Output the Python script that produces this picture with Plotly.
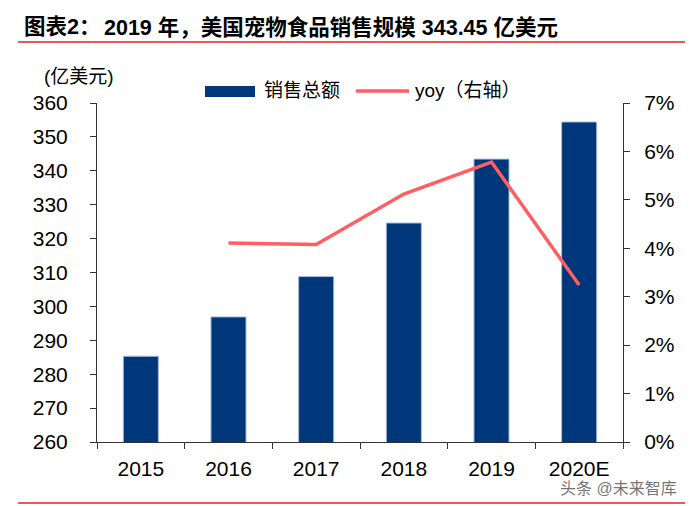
import plotly.graph_objects as go

years = ["2015", "2016", "2017", "2018", "2019", "2020E"]
sales = [285.3, 296.9, 308.8, 324.6, 343.45, 354.4]
yoy_years = ["2016", "2017", "2018", "2019", "2020E"]
yoy = [0.0411, 0.0408, 0.0512, 0.0578, 0.0324]

title_prefix = "图表2："
title_main = "2019 年，美国宠物食品销售规模 343.45 亿美元"
unit_label = "(亿美元)"
legend_bar = "销售总额"
legend_line = "yoy（右轴）"
watermark = "头条 @未来智库"

FONT = "Arial, 'Liberation Sans', 'Noto Sans CJK SC', sans-serif"
BLUE = "#00367A"
RED_LINE = "#FF5F62"
RULE = "#E2231A"

fig = go.Figure()

fig.add_trace(
    go.Bar(x=years, y=sales, name=legend_bar,
           width=0.4,
           marker=dict(color=BLUE, line=dict(color="#A9BBD6", width=1))))

fig.add_trace(
    go.Scatter(x=yoy_years, y=yoy, name=legend_line,
               mode="lines", yaxis="y2",
               line=dict(color=RED_LINE, width=3.5)))

# manual legend, title and rules (paper coords: plot is 526 x 339 px)
fig.add_shape(type="rect", xref="paper", yref="paper",
              x0=0.2053, x1=0.3004, y0=1.0177, y1=1.050,
              fillcolor=BLUE, line=dict(width=0))
fig.add_shape(type="line", xref="paper", yref="paper",
              x0=0.4924, x1=0.5932, y0=1.0354, y1=1.0354,
              line=dict(color=RED_LINE, width=3.5))
fig.add_shape(type="line", xref="paper", yref="paper",
              x0=-0.150, x1=1.118, y0=1.18, y1=1.18,
              line=dict(color=RULE, width=1.5))
fig.add_shape(type="line", xref="paper", yref="paper",
              x0=-0.150, x1=1.118, y0=-0.18, y1=-0.18,
              line=dict(color=RULE, width=1.5))

annots = [
    dict(text=legend_bar, x=0.3137, y=1.0354, xanchor="left", size=19),
    dict(text=legend_line, x=0.6008, y=1.0354, xanchor="left", size=19),
    dict(text=unit_label, x=-0.0342, y=1.0796, xanchor="center", size=19),
    dict(text="<b>" + title_prefix + "</b>", x=-0.1426, y=1.224, xanchor="left", size=21.5),
    dict(text="<b>" + title_main + "</b>", x=0.0095, y=1.224, xanchor="left", size=21.5),
]
for a in annots:
    fig.add_annotation(text=a["text"], x=a["x"], y=a["y"], xref="paper", yref="paper",
                       xanchor=a["xanchor"], yanchor="middle", showarrow=False,
                       font=dict(family=FONT, size=a["size"], color="black"))

fig.add_annotation(text=watermark, x=0.876, y=-0.1386, xref="paper", yref="paper",
                   xanchor="left", yanchor="middle", showarrow=False,
                   font=dict(family=FONT, size=16, color="rgba(70,70,70,0.75)"))

# page body adds 8 px, so margins are shifted to land the plot on the same pixels
fig.update_layout(
    width=700, height=506,
    margin=dict(l=89, r=85, t=95, b=72),
    paper_bgcolor="white", plot_bgcolor="white",
    showlegend=False,
    font=dict(family=FONT, size=21, color="black"),
    xaxis=dict(type="category", showline=True, linecolor="#333", linewidth=1,
               ticks="outside", tickson="boundaries", ticklen=6, tickcolor="#333",
               ticklabelstandoff=8, showgrid=False),
    yaxis=dict(range=[260, 360], dtick=10, showline=True, linecolor="#333",
               linewidth=1, ticks="outside", ticklen=6, tickcolor="#333",
               ticklabelstandoff=18, showgrid=False, zeroline=False),
    yaxis2=dict(range=[0, 0.07], dtick=0.01, tickformat=".0%", overlaying="y",
                side="right", showline=True, linecolor="#333", linewidth=1,
                ticks="outside", ticklen=6, tickcolor="#333",
                ticklabelstandoff=10, showgrid=False, zeroline=False),
)

fig.write_html("out.html")
